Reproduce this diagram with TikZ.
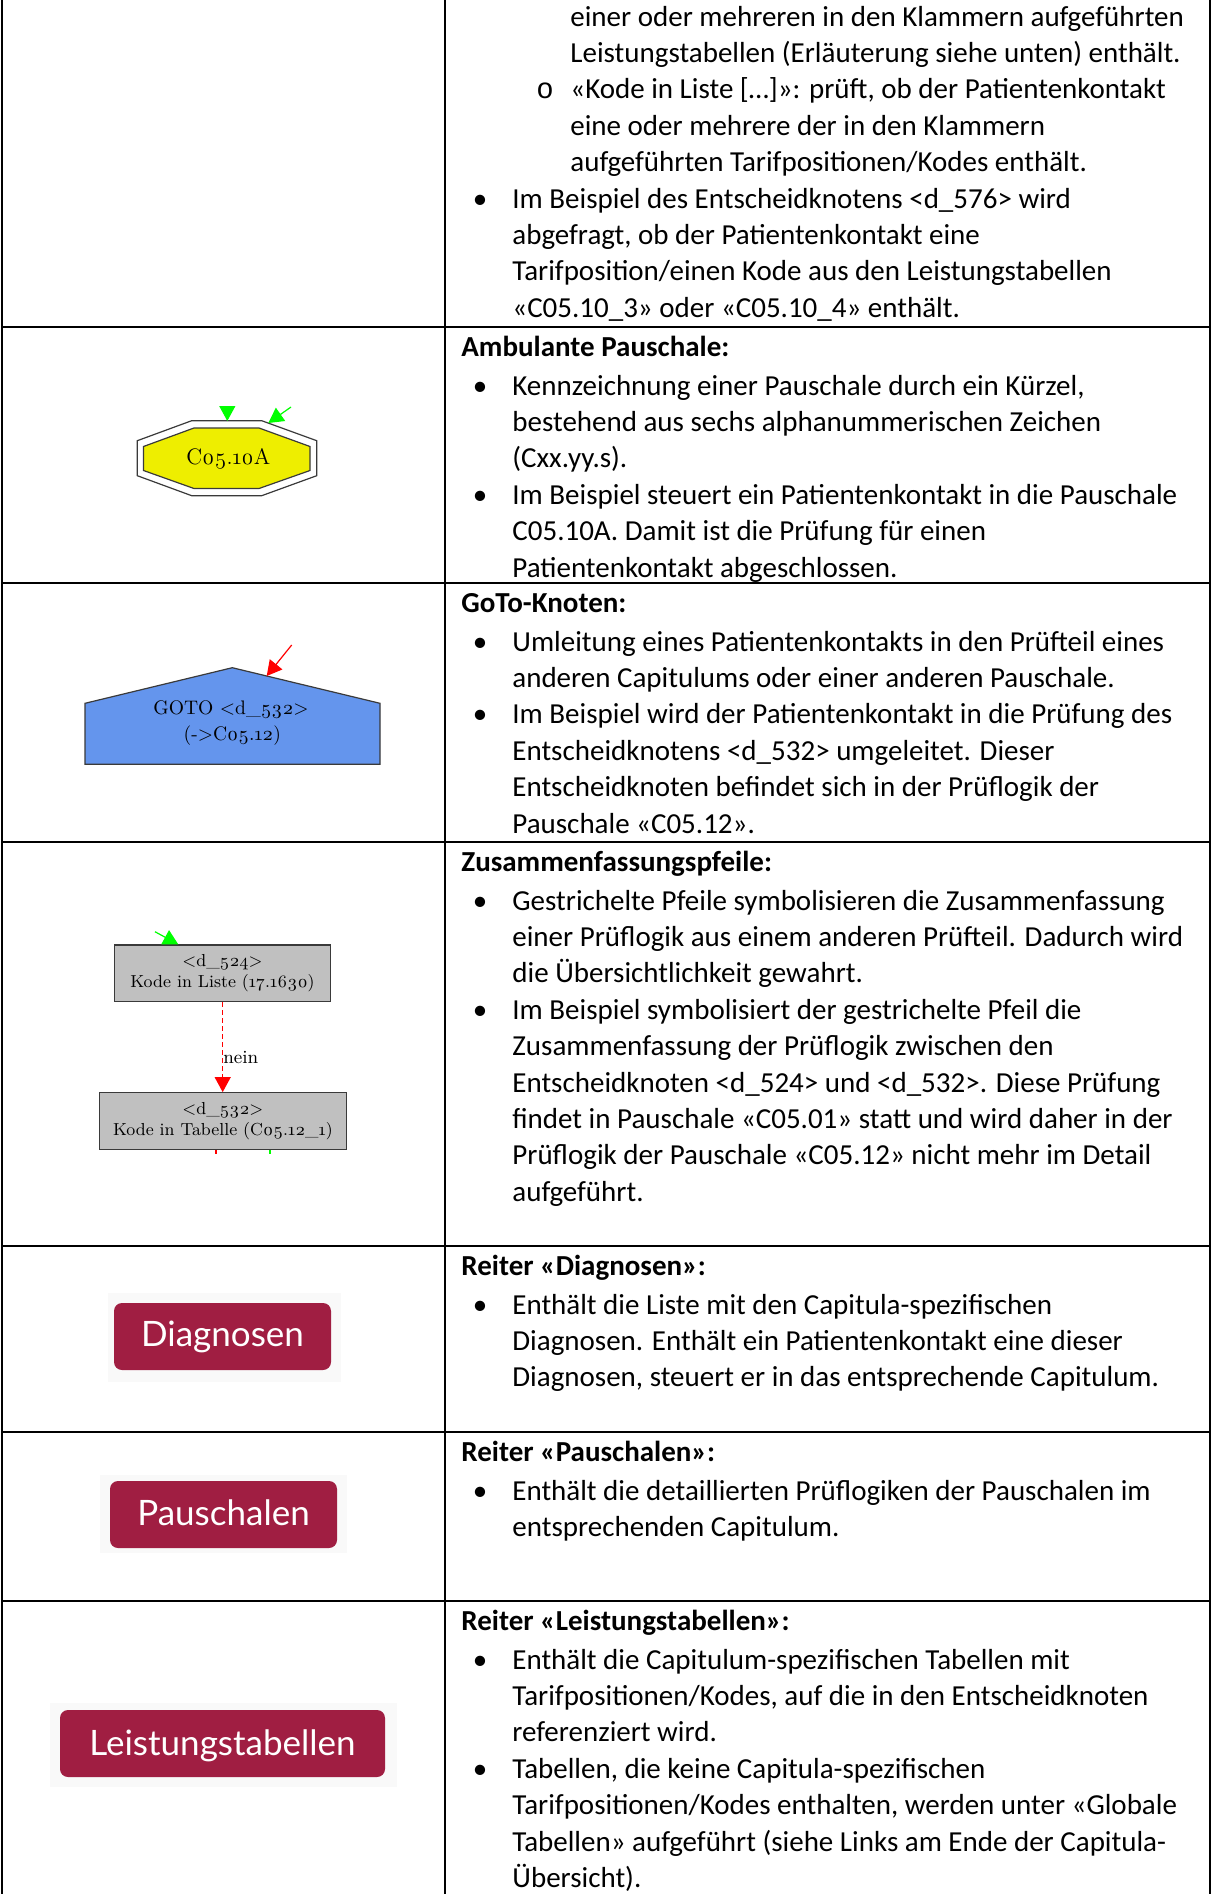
\documentclass[tikz,border=0pt]{standalone}
\usepackage{fontspec}
\setmainfont{Carlito}
\newfontfamily\latofont{Lato}
\newfontfamily\gvfont[Numbers=OldStyle]{Latin Modern Roman}
\newfontfamily\cmono{Liberation Mono}
\usetikzlibrary{arrows.meta}
\definecolor{btn}{RGB}{160,30,66}
\definecolor{gvyellow}{HTML}{EEEE00}
\definecolor{gvblue}{HTML}{6495ED}
\definecolor{gvgray}{HTML}{C0C0C0}
\definecolor{gvline}{HTML}{3A3A3A}
\definecolor{gvgreen}{HTML}{00FF00}
\definecolor{gvred}{HTML}{FF0000}
\definecolor{framebg}{HTML}{F9F9F9}
\newcommand\TL[4]{\node[txt] (#1) at (#2,#3) {#4};}
\newcommand\TT[4]{\node[ttl] (#1) at (#2,#3) {#4};}
\newcommand\BU[3]{\node[bulletchar] (#1) at (480,#2) {•}; \node[txt] (#1t) at (512,#2) {#3};}
\begin{document}
\begin{tikzpicture}[x=0.5pt,y=-0.5pt,
 txt/.style={anchor=base west, inner sep=0pt, font=\fontsize{14.5}{17}\selectfont},
 ttl/.style={anchor=base west, inner sep=0pt, font=\fontsize{14.5}{17}\selectfont\bfseries},
 bulletchar/.style={anchor=base, inner sep=0pt, font=\fontsize{14.5}{17}\selectfont},
 subbullet/.style={anchor=base, inner sep=0pt, font=\cmono\fontsize{14.5}{17}\selectfont},
 gridline/.style={line width=1.25pt, black},
 gvshape/.style={draw=gvline, line width=0.6pt},
 gvtext/.style={font=\gvfont\fontsize{9.8}{12}\selectfont, inner sep=0pt},
 gvoct/.style={font=\gvfont\fontsize{11.2}{13}\selectfont, inner sep=0pt},
 gvsmall/.style={font=\gvfont\fontsize{9.3}{11}\selectfont, inner sep=0pt},
 btnframe/.style={fill=framebg, draw=none},
 btnbox/.style={fill=btn, rounded corners=4pt, draw=none},
 btntext/.style={font=\latofont\fontsize{17.5}{20}\selectfont, text=white, anchor=base, inner sep=0pt},
 gvarrow/.style={-{Triangle[length=7.5pt,width=8pt]}, line width=0.6pt},
]
\useasboundingbox (0,0) rectangle (1212,1894);
\fill[white] (0,0) rectangle (1212,1894);

% ---------- table grid ----------
\draw[gridline] (2,0) -- (2,1894);
\draw[gridline] (445,0) -- (445,1894);
\draw[gridline] (1210,0) -- (1210,1894);
\foreach \yy in {327,583,842,1246,1432,1601}
  \draw[gridline] (2,\yy) -- (1210,\yy);

% ---------- row 1 ----------
\TL{r1a}{570}{26.1}{einer oder mehreren in den Klammern aufgeführten}
\TL{r1b}{570}{62.5}{Leistungstabellen (Erläuterung siehe unten) enthält.}
\node[subbullet] (r1o) at (545,98.9) {o};
\TL{r1c}{570}{98.9}{«Kode in Liste […]»: prüft, ob der Patientenkontakt}
\TL{r1d}{570}{135.3}{eine oder mehrere der in den Klammern}
\TL{r1e}{570}{171.7}{aufgeführten Tarifpositionen/Kodes enthält.}
\BU{r1f}{208.1}{Im Beispiel des Entscheidknotens <d\_576> wird}
\TL{r1g}{512}{244.5}{abgefragt, ob der Patientenkontakt eine}
\TL{r1h}{512}{280.9}{Tarifposition/einen Kode aus den Leistungstabellen}
\TL{r1i}{512}{317.3}{«C05.10\_3» oder «C05.10\_4» enthält.}

% ---------- row 2 ----------
\TT{r2h}{461}{356}{Ambulante Pauschale:}
\BU{r2a}{395}{Kennzeichnung einer Pauschale durch ein Kürzel,}
\TL{r2b}{512}{431.4}{bestehend aus sechs alphanummerischen Zeichen}
\TL{r2c}{512}{467.8}{(Cxx.yy.s).}
\BU{r2d}{504.2}{Im Beispiel steuert ein Patientenkontakt in die Pauschale}
\TL{r2e}{512}{540.6}{C05.10A. Damit ist die Prüfung für einen}
\TL{r2f}{512}{577}{Patientenkontakt abgeschlossen.}

% ---------- row 3 ----------
\TT{r3h}{461}{612}{GoTo-Knoten:}
\BU{r3a}{651}{Umleitung eines Patientenkontakts in den Prüfteil eines}
\TL{r3b}{512}{687.4}{anderen Capitulums oder einer anderen Pauschale.}
\BU{r3c}{723.8}{Im Beispiel wird der Patientenkontakt in die Prüfung des}
\TL{r3d}{512}{760.2}{Entscheidknotens <d\_532> umgeleitet. Dieser}
\TL{r3e}{512}{796.6}{Entscheidknoten befindet sich in der Prüflogik der}
\TL{r3f}{512}{833}{Pauschale «C05.12».}

% ---------- row 4 ----------
\TT{r4h}{461}{871}{Zusammenfassungspfeile:}
\BU{r4a}{910}{Gestrichelte Pfeile symbolisieren die Zusammenfassung}
\TL{r4b}{512}{946.4}{einer Prüflogik aus einem anderen Prüfteil. Dadurch wird}
\TL{r4c}{512}{982.8}{die Übersichtlichkeit gewahrt.}
\BU{r4d}{1019.2}{Im Beispiel symbolisiert der gestrichelte Pfeil die}
\TL{r4e}{512}{1055.6}{Zusammenfassung der Prüflogik zwischen den}
\TL{r4f}{512}{1092}{Entscheidknoten <d\_524> und <d\_532>. Diese Prüfung}
\TL{r4g}{512}{1128.4}{findet in Pauschale «C05.01» statt und wird daher in der}
\TL{r4i}{512}{1164.8}{Prüflogik der Pauschale «C05.12» nicht mehr im Detail}
\TL{r4j}{512}{1201.2}{aufgeführt.}

% ---------- row 5 ----------
\TT{r5h}{461}{1275}{Reiter «Diagnosen»:}
\BU{r5a}{1314}{Enthält die Liste mit den Capitula-spezifischen}
\TL{r5b}{512}{1350.4}{Diagnosen. Enthält ein Patientenkontakt eine dieser}
\TL{r5c}{512}{1386.8}{Diagnosen, steuert er in das entsprechende Capitulum.}

% ---------- row 6 ----------
\TT{r6h}{461}{1461}{Reiter «Pauschalen»:}
\BU{r6a}{1500}{Enthält die detaillierten Prüflogiken der Pauschalen im}
\TL{r6b}{512}{1536.4}{entsprechenden Capitulum.}

% ---------- row 7 ----------
\TT{r7h}{461}{1630}{Reiter «Leistungstabellen»:}
\BU{r7a}{1669}{Enthält die Capitulum-spezifischen Tabellen mit}
\TL{r7b}{512}{1705.4}{Tarifpositionen/Kodes, auf die in den Entscheidknoten}
\TL{r7c}{512}{1741.8}{referenziert wird.}
\BU{r7d}{1778.2}{Tabellen, die keine Capitula-spezifischen}
\TL{r7e}{512}{1814.6}{Tarifpositionen/Kodes enthalten, werden unter «Globale}
\TL{r7f}{512}{1851}{Tabellen» aufgeführt (siehe Links am Ende der Capitula-}
\TL{r7g}{512}{1887.4}{Übersicht).}

% ---------- octagon (Ambulante Pauschale) ----------
\draw[gvshape, fill=white] (191.7,420.7) -- (261.7,420.7) -- (316.7,440.7) -- (316.7,475.7)
  -- (261.7,495.7) -- (191.7,495.7) -- (137.3,475.7) -- (137.3,440.7) -- cycle;
\draw[gvshape, fill=gvyellow] (194,428) -- (259,428) -- (310,446.5) -- (310,470.5)
  -- (259,488.5) -- (194,488.5) -- (143.5,470.5) -- (143.5,446.5) -- cycle;
\node[gvoct] (oct) at (228.3,458.5) {C05.10A};
\coordinate (octin1) at (227.3,421);
\coordinate (octin2) at (268.3,423);
\coordinate (gsrc1) at (227.3,407);
\coordinate (gsrc2) at (291,407);
\draw[gvarrow, gvgreen] (gsrc1) -- (octin1);
\draw[gvarrow, gvgreen] (gsrc2) -- (octin2);

% ---------- GoTo house ----------
\draw[gvshape, fill=gvblue] (85,703.3) -- (232.3,667.7) -- (380,703.3) -- (380,764.3) -- (85,764.3) -- cycle;
\node[gvtext] (goto1) at (231,709.5) {GOTO <d\_532>};
\node[gvtext] (goto2) at (232.3,735.5) {(->C05.12)};
\coordinate (gotoin) at (266.7,676);
\coordinate (rsrc) at (291.7,645);
\draw[gvarrow, gvred] (rsrc) -- (gotoin);

% ---------- summary arrow boxes ----------
\node[gvshape, fill=gvgray, minimum width=108.2pt, minimum height=28.3pt, inner sep=0pt,
      align=center, font=\gvfont\fontsize{8.7}{10.4}\selectfont] (d524) at (222.5,973.3)
      {<d\_524>\\Kode in Liste (17.1630)};
\node[gvshape, fill=gvgray, minimum width=123.8pt, minimum height=28.2pt, inner sep=0pt,
      align=center, font=\gvfont\fontsize{8.7}{10.4}\selectfont] (d532) at (222.9,1120.9)
      {<d\_532>\\Kode in Tabelle (C05.12\_1)};
\draw[gvarrow, gvred, dashed, dash pattern=on 2.5pt off 1.5pt] (d524.south -| 222.7,0) -- (d532.north -| 222.7,0)
  node[pos=0.62, anchor=west, inner sep=0pt, gvsmall, text=black] (nein) {nein};
\coordinate (gsrc3) at (155,931.7);
\draw[gvarrow, gvgreen] (gsrc3) -- (d524.north -| 178.3,0);
\coordinate (rstub) at (216,1153.5);
\coordinate (gstub) at (270,1153.5);
\draw[gvred, line width=0.6pt] (d532.south -| rstub) -- (rstub);
\draw[gvgreen, line width=0.6pt] (d532.south -| gstub) -- (gstub);

% ---------- buttons ----------
\fill[btnframe] (108,1293) rectangle (341,1382);
\fill[btnbox] (114,1303) rectangle (331,1370);
\node[btntext] (bdiag) at (222.5,1346.7) {Diagnosen};

\fill[btnframe] (100,1475) rectangle (347,1553);
\fill[btnbox] (110,1481) rectangle (337,1548);
\node[btntext] (bpausch) at (223.5,1525.7) {Pauschalen};

\fill[btnframe] (50,1703) rectangle (397,1787);
\fill[btnbox] (60,1710) rectangle (385,1777);
\node[btntext] (bleist) at (222.5,1755) {Leistungstabellen};
\end{tikzpicture}
\end{document}
